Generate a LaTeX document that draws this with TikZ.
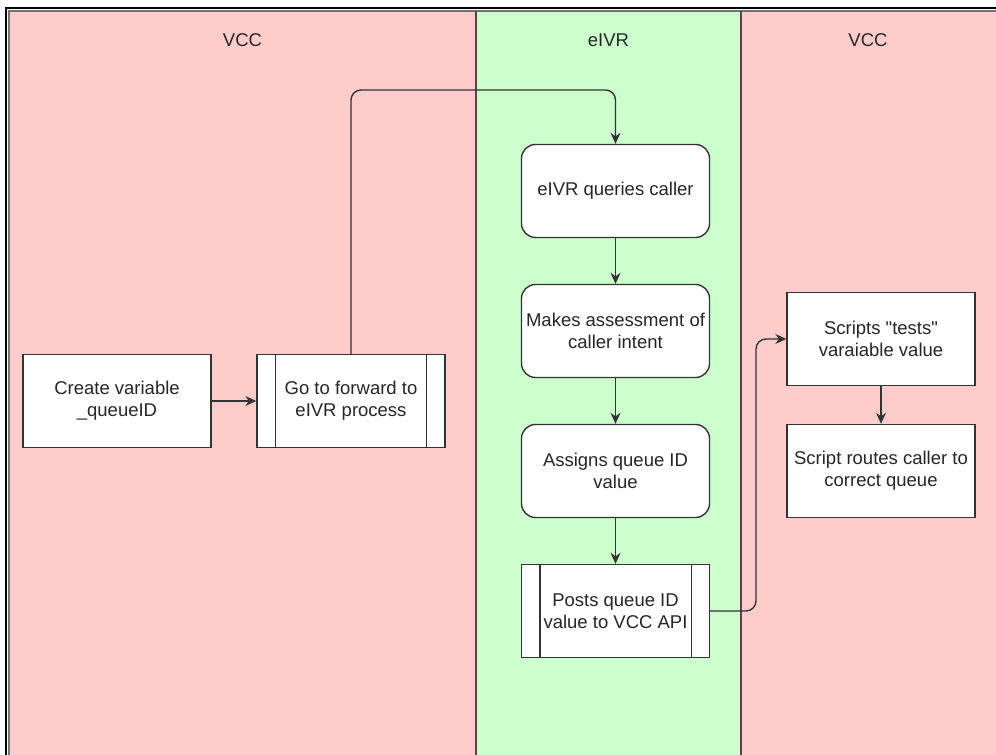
\documentclass[tikz,border=0pt]{standalone}
\usepackage{fontspec}
\setmainfont{Liberation Sans}
\usepackage{tikz}
\usetikzlibrary{positioning,arrows.meta,calc}
\usepackage{xcolor}
\definecolor{vcc}{HTML}{FFCCCC}
\definecolor{ivr}{HTML}{CCFFCC}
\definecolor{edge}{HTML}{333333}
\newcommand{\fsize}{\fontsize{18.5}{22}\selectfont}
\tikzstyle{l1}=[line width=1.4pt, draw=edge, >={Stealth[length=11pt,width=10pt]}]
\tikzstyle{proc}=[rectangle, draw=edge, fill=white, line width=1.4pt, minimum width=188pt, minimum height=93pt, align=center, font=\fsize, text=black!85]
\tikzstyle{rproc}=[proc, rounded corners=14pt]
\tikzstyle{sproc}=[proc]
\tikzstyle{lane}=[line width=2pt, draw=black!70]
\tikzstyle{head}=[font=\fsize, text=black!85]

\begin{document}
\begin{tikzpicture}[x=1pt, y=1pt, node distance=140pt, on grid]
    \useasboundingbox (0,0) rectangle (996,755);
    \clip (0,0) rectangle (996,755);

    % swimlanes
    \fill[vcc] (9,-5) rectangle (476,744);
    \fill[ivr] (476,-5) rectangle (741,744);
    \fill[vcc] (741,-5) rectangle (1000,744);
    \draw[lane, draw=black!55] (9,-5) -- (9,743.7) -- (1000,743.7);
    \draw[lane] (476,-5) -- (476,743.7);
    \draw[lane] (741,-5) -- (741,743.7);
    \draw[line width=2pt] (5.8,-5) -- (5.8,747.2) -- (1000,747.2);

    \node[head] (hvl) at (242.5,715) {VCC};
    \node[head] (hivr) at (608.5,715) {eIVR};
    \node[head] (hvr) at (868,715) {VCC};

    % VCC side
    \node[proc] (create) at (117,354) {Create variable\\\_queueID};
    \node[sproc] (goto) [right=234pt of create] {Go to forward to\\eIVR process};

    % eIVR column
    \node[rproc] (query) at (615.5,564) {eIVR queries caller};
    \node[rproc] (assess) [below=of query] {Makes assessment of\\caller intent};
    \node[rproc] (assign) [below=of assess] {Assigns queue ID\\value};
    \node[sproc] (post) [below=of assign] {Posts queue ID\\value to VCC API};

    % back in VCC
    \node[proc] (tests) at (881,416) {Scripts \textquotedbl tests\textquotedbl\\varaiable value};
    \node[proc] (route) [below=132pt of tests] {Script routes caller to\\correct queue};

    % side bars of the subprocess boxes
    \foreach \n in {goto, post}{
        \draw[l1] ([xshift=19pt]\n.north west) -- ([xshift=19pt]\n.south west);
        \draw[l1] ([xshift=-19pt]\n.north east) -- ([xshift=-19pt]\n.south east);
    }

    % connectors
    \draw[l1, ->] (create) -- (goto);
    \coordinate (top) at (480,665);
    \draw[l1, ->, rounded corners=10pt] (goto.north) |- (top) -| (query.north);
    \foreach \a/\b in {query/assess, assess/assign, assign/post, tests/route}{
        \draw[l1, ->] (\a) -- (\b);
    }
    \coordinate (jog) at (756,280);
    \draw[l1, ->, rounded corners=10pt] (post.east) -| (jog) |- (tests.west);

\end{tikzpicture}
\end{document}
